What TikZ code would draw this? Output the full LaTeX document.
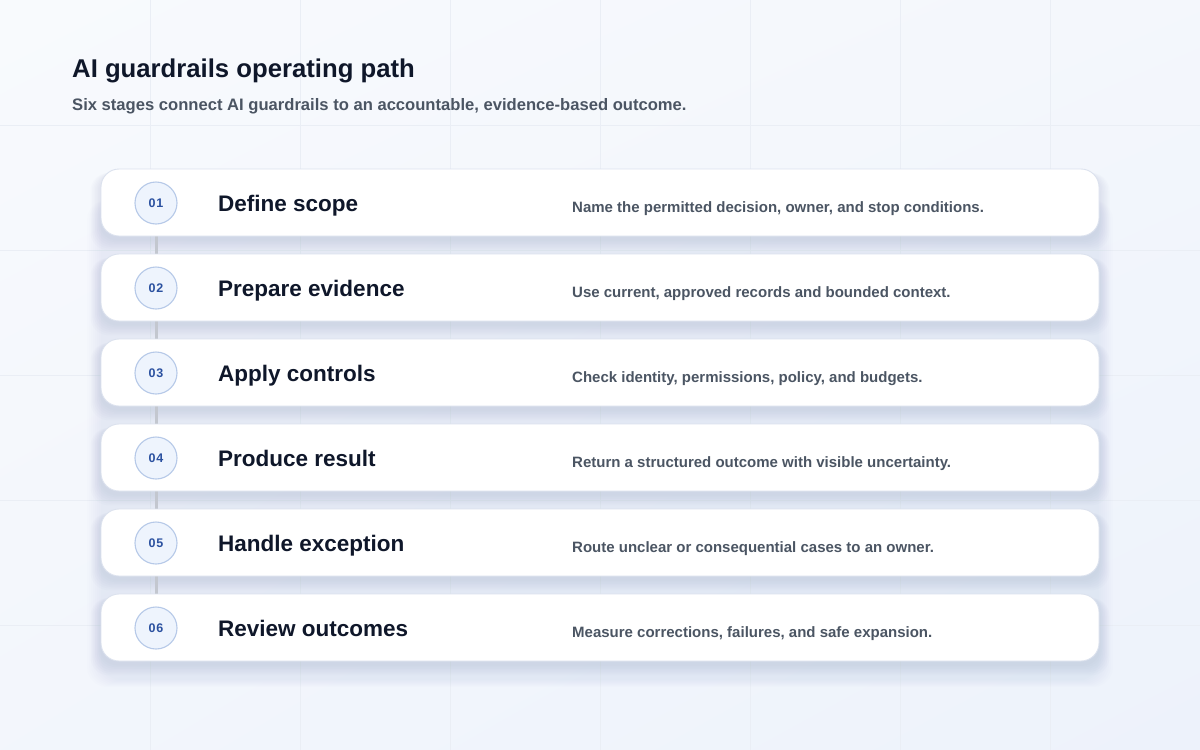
\documentclass[tikz,border=0pt]{standalone}
\usepackage{fontspec}
\setmainfont{Liberation Sans}
\usetikzlibrary{shadings}
\pgfdeclarelayer{bg}
\pgfdeclarelayer{conn}
\pgfsetlayers{bg,conn,main}
\definecolor{bgA}{HTML}{F8FAFD}
\definecolor{bgB}{HTML}{EDF2FB}
\definecolor{gridc}{HTML}{EAEEF5}
\definecolor{shadc}{HTML}{8A96B8}
\definecolor{cardline}{HTML}{DCE2EE}
\definecolor{circfill}{HTML}{EEF4FD}
\definecolor{circline}{HTML}{B6C9E8}
\definecolor{numc}{HTML}{2B51A0}
\definecolor{titlec}{HTML}{0F172A}
\definecolor{subc}{HTML}{4B5563}
\definecolor{connc}{HTML}{C3C7CF}
\tikzset{
  card/.style={draw=cardline, line width=0.9pt, fill=white, rounded corners=18pt,
    minimum width=998pt, minimum height=67pt, inner sep=0pt},
  numcirc/.style={circle, draw=circline, line width=1.1pt, fill=circfill,
    minimum size=42pt, inner sep=0pt, text=numc,
    font=\bfseries\fontsize{12.5}{14}\selectfont\addfontfeature{LetterSpace=8}},
  stagetitle/.style={anchor=base west, inner sep=0pt, text=titlec, font=\bfseries\fontsize{22.5}{26}\selectfont},
  stagedesc/.style={anchor=base west, inner sep=0pt, text=subc, font=\bfseries\fontsize{15}{18}\selectfont},
  conn/.style={draw=connc, line width=3pt},
}
\begin{document}
\begin{tikzpicture}[x=1pt,y=-1pt]
\useasboundingbox (0,0) rectangle (1200,750);
\begin{pgfonlayer}{bg}
\shade[upper left=bgA, upper right=bgA!60!bgB, lower left=bgA!50!bgB, lower right=bgB] (0,0) rectangle (1200,750);
\foreach \x in {150,300,...,1050} \draw[gridc, line width=0.7pt] (\x,0) -- (\x,750);
\foreach \y in {125,250,...,625} \draw[gridc, line width=0.7pt] (0,\y) -- (1200,\y);
% panel shade
\foreach \k in {0,...,7}
  \fill[shadc, opacity=0.012, rounded corners=20pt] (101-2*\k,200) rectangle (1099+2*\k,680+\k);
% card shadows
\foreach \i in {0,...,5}{
  \pgfmathsetmacro{\tp}{169+85*\i}
  \foreach \k in {1,...,7}
    \fill[shadc, opacity=0.028, rounded corners=18pt] (101-1.5*\k,\tp+4) rectangle (1099+1.5*\k,\tp+67+3+1.6*\k);
}
\end{pgfonlayer}
\node[anchor=base west, inner sep=0pt, text=titlec, font=\bfseries\fontsize{25.7}{30}\selectfont] (title) at (72,77) {AI guardrails operating path};
\node[anchor=base west, inner sep=0pt, text=subc, font=\bfseries\fontsize{16.6}{20}\selectfont] (subtitle) at (72,110) {Six stages connect AI guardrails to an accountable, evidence-based outcome.};
\foreach \i/\num/\ttl/\dsc in {
  0/01/Define scope/{Name the permitted decision, owner, and stop conditions.},
  1/02/Prepare evidence/{Use current, approved records and bounded context.},
  2/03/Apply controls/{Check identity, permissions, policy, and budgets.},
  3/04/Produce result/{Return a structured outcome with visible uncertainty.},
  4/05/Handle exception/{Route unclear or consequential cases to an owner.},
  5/06/Review outcomes/{Measure corrections, failures, and safe expansion.}}{
  \pgfmathsetmacro{\tp}{169+85*\i}
  \node[card] (card\num) at (600,\tp+33.5) {};
  \node[numcirc] (n\num) at (156,\tp+34) {\num};
  \node[stagetitle] (t\num) at (218,\tp+42.5) {\ttl};
  \node[stagedesc] (d\num) at (572,\tp+43) {\dsc};
}
\begin{pgfonlayer}{conn}
\foreach \a/\b in {01/02,02/03,03/04,04/05,05/06}
  \draw[conn] (n\a.south) -- (n\b.north);
\end{pgfonlayer}
\end{tikzpicture}
\end{document}
